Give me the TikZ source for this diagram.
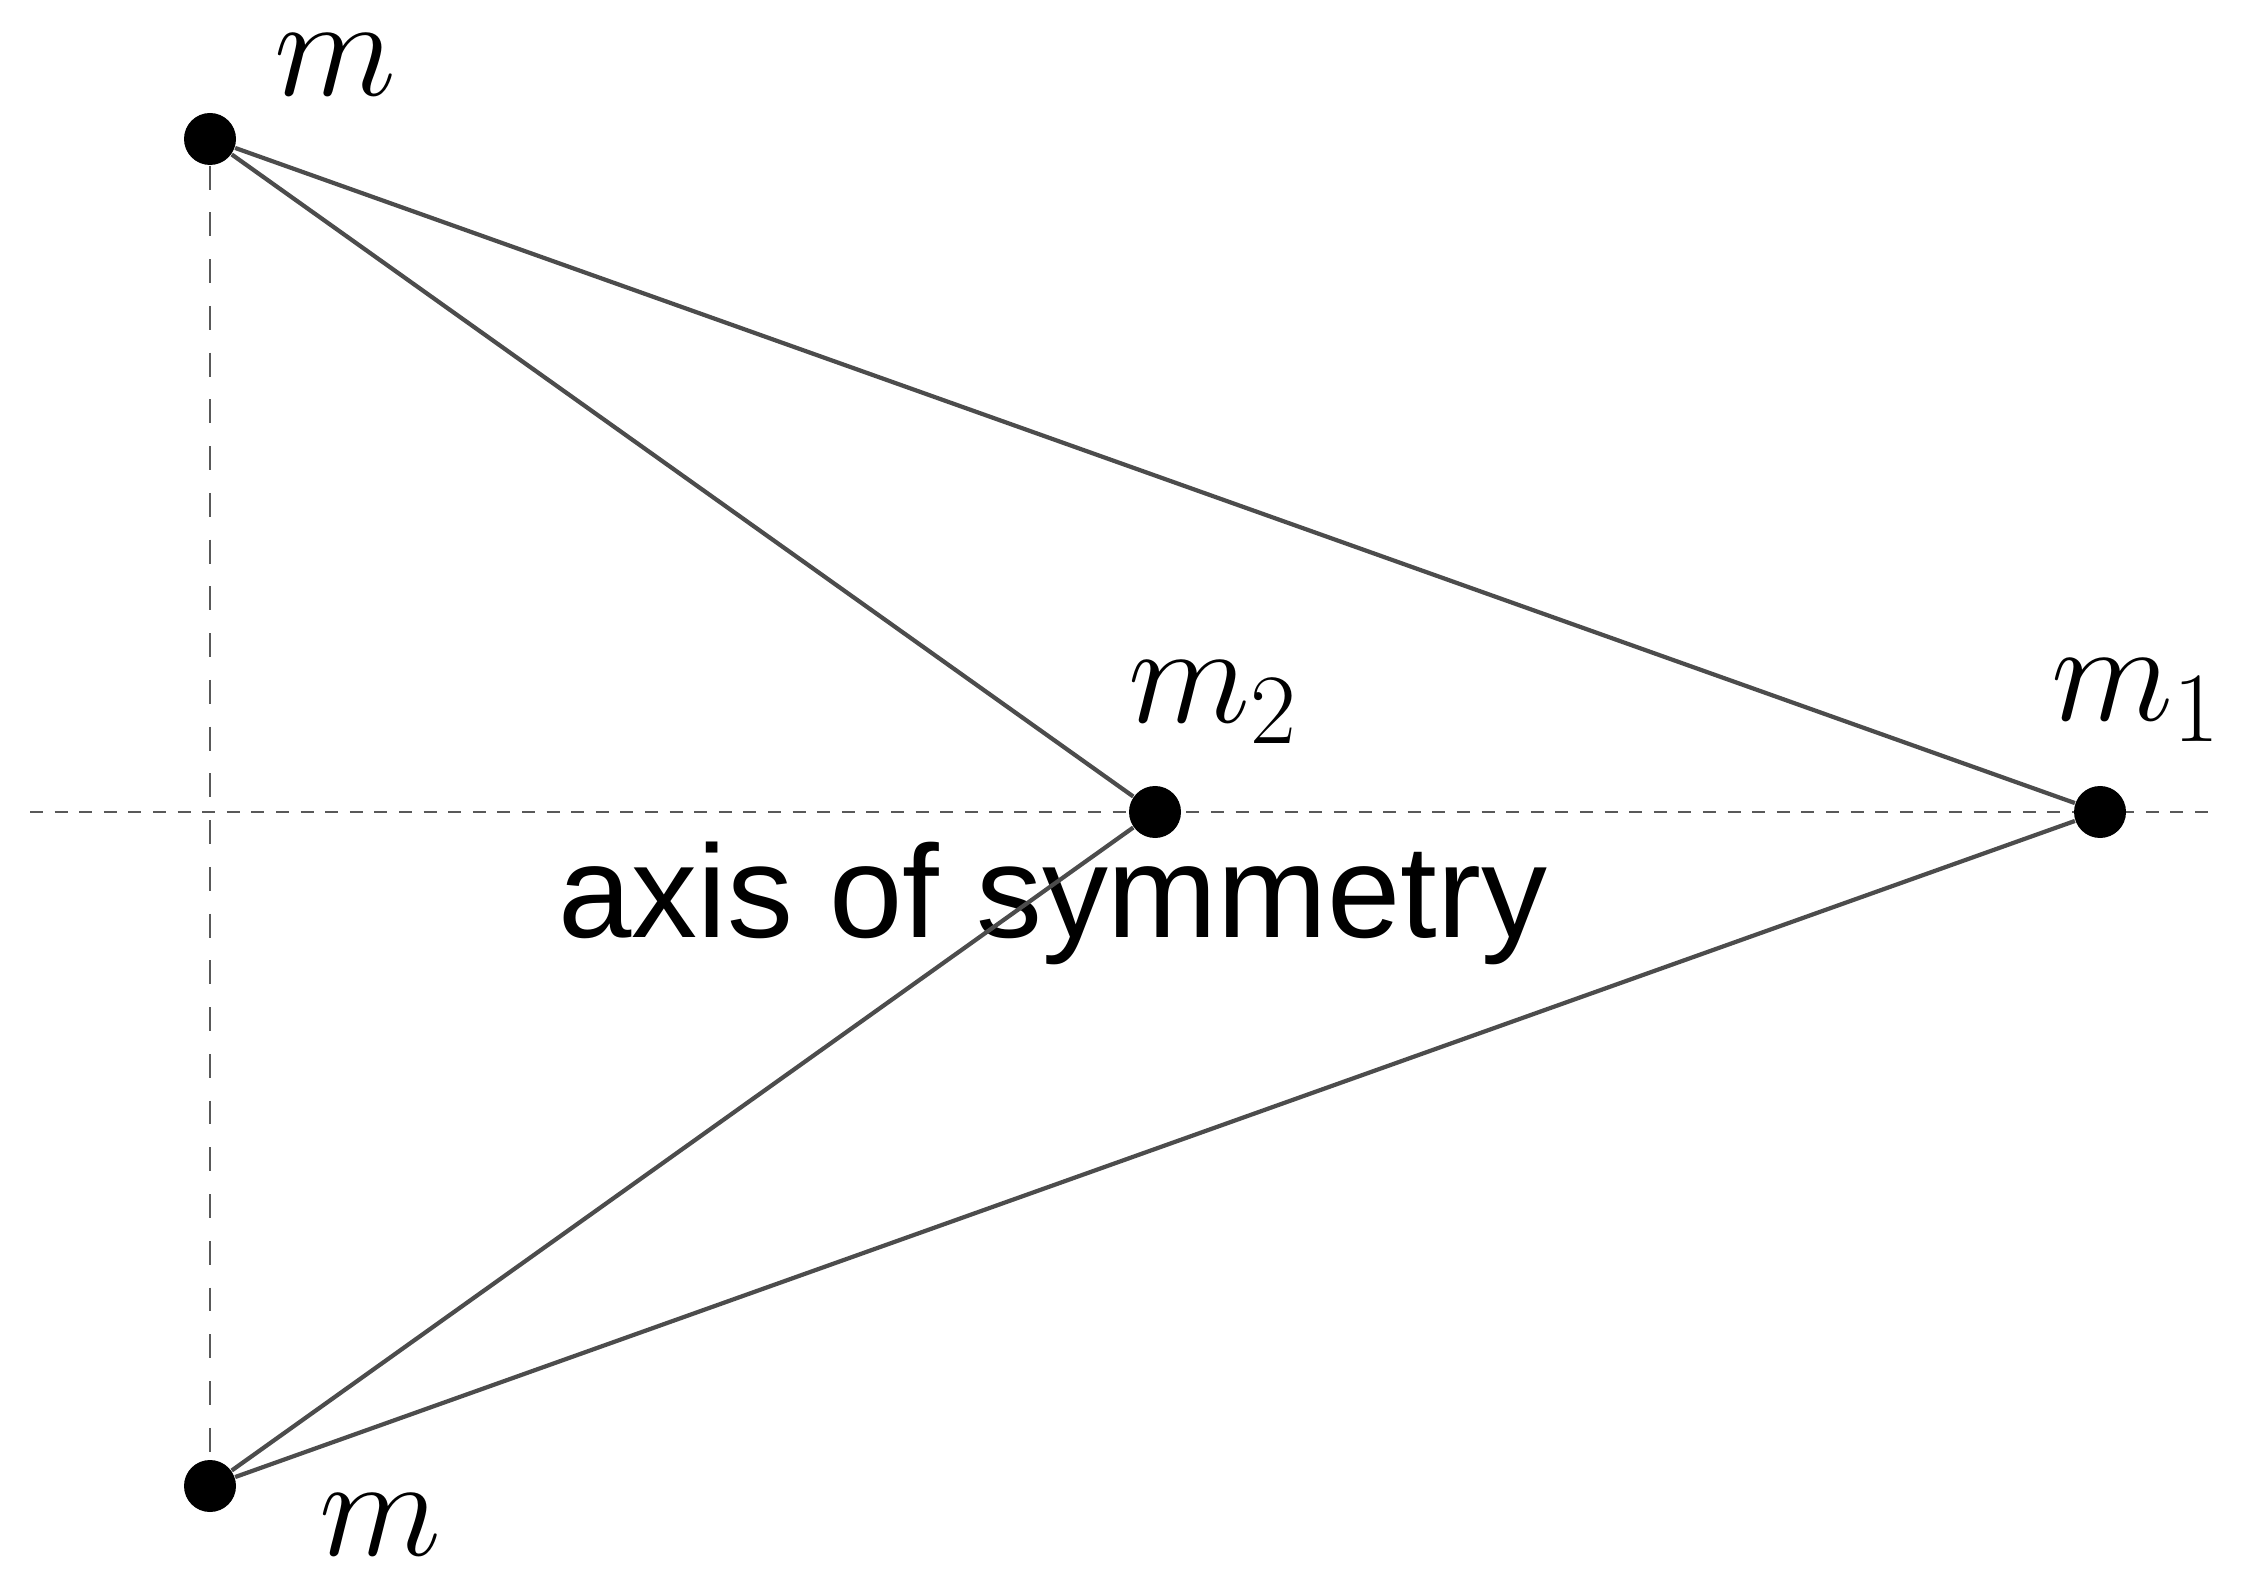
\RequirePackage{fix-cm}
\documentclass[tikz,border=0pt]{standalone}
\usepackage{amsmath}
\usepackage{fontspec}
\setsansfont{Liberation Sans}
\usepackage{tikz}

\begin{document}
\begin{tikzpicture}[line join=round]
      \tikzstyle{mass}=[circle, fill=black, minimum size=5.2mm, inner sep=0pt]
      \tikzstyle{masslabel}=[anchor=base, inner sep=0pt, font=\fontsize{40.5}{48}\selectfont]
      \tikzstyle{link}=[draw=black!70, line width=1.2pt]
      \tikzstyle{axis}=[draw=black!65, line width=0.75pt, dash pattern=on 3.7pt off 3.3pt]
      \tikzstyle{mirror}=[draw=black!65, line width=0.6pt, dash pattern=on 6.8pt off 6.5pt]
      \tikzstyle{annot}=[anchor=base, inner sep=0pt, font=\sffamily\fontsize{37.5}{45}\selectfont]

      \useasboundingbox (0,0) rectangle (22.49,15.84);

      % axis first, so the masses sit on top of it
      \coordinate (axisL) at (0.30, 7.72);
      \coordinate (axisR) at (22.15, 7.72);
      \draw[axis] (axisL) -- (axisR);

      \node[mass] (top) at (2.10, 14.45) {};
      \node[mass] (bottom) at (2.10, 0.98) {};
      \node[mass] (M2) at (11.55, 7.72) {};
      \node[mass] (M1) at (21.00, 7.72) {};

      \node[masslabel] (topL) at (3.35, 14.88) {$m$};
      \node[masslabel] (bottomL) at (3.80, 0.29) {$m$};
      \node[masslabel] (M2L) at (12.13, 8.62) {$m_2$};
      \node[masslabel] (M1L) at (21.36, 8.64) {$m_1$};

      \node[annot] (axisT) at (10.53, 6.47) {axis of symmetry};

      \draw[mirror] (top) -- (bottom);
      \path (top) edge [link] (M2);
      \path (top) edge [link] (M1);
      \path (bottom) edge [link] (M2);
      \path (bottom) edge [link] (M1);
\end{tikzpicture}
\end{document}
